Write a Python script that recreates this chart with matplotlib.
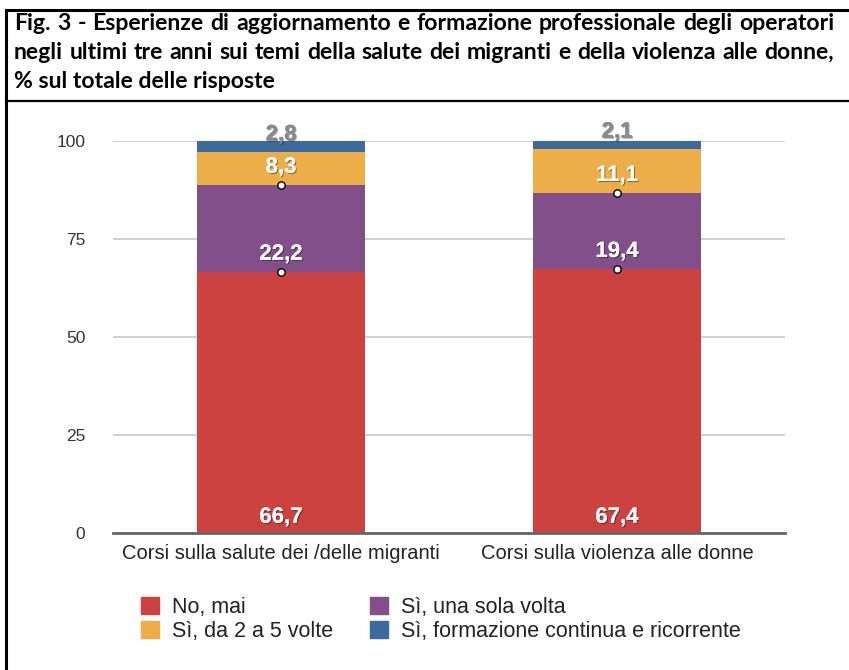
import numpy as np
import matplotlib
matplotlib.use("Agg")
import matplotlib.pyplot as plt
import matplotlib.patheffects as pe
from matplotlib.patches import Patch
from matplotlib.lines import Line2D

categories = ["Corsi sulla salute dei /delle migranti", "Corsi sulla violenza alle donne"]
series_names = ["No, mai", "Sì, una sola volta", "Sì, da 2 a 5 volte",
                "Sì, formazione continua e ricorrente"]
values = {
    "No, mai": [66.7, 67.4],
    "Sì, una sola volta": [22.2, 19.4],
    "Sì, da 2 a 5 volte": [8.3, 11.1],
    "Sì, formazione continua e ricorrente": [2.8, 2.1],
}
labels = {
    "No, mai": ["66,7", "67,4"],
    "Sì, una sola volta": ["22,2", "19,4"],
    "Sì, da 2 a 5 volte": ["8,3", "11,1"],
    "Sì, formazione continua e ricorrente": ["2,8", "2,1"],
}
colors = {
    "No, mai": "#CC4240",
    "Sì, una sola volta": "#834F8A",
    "Sì, da 2 a 5 volte": "#EDAE4A",
    "Sì, formazione continua e ricorrente": "#3A6A9E",
}
yticks = [0, 25, 50, 75, 100]
title_lines = [
    "Fig. 3 - Esperienze di aggiornamento e formazione professionale degli operatori",
    "negli ultimi tre anni sui temi della salute dei migranti e della violenza alle donne,",
    "% sul totale delle risposte",
]

W, H = 849, 670
fig = plt.figure(figsize=(W / 100, H / 100), dpi=100)

# cornice esterna e riga sotto il titolo
fig.add_artist(Line2D([6 / W, 6 / W], [0, 1 - 10 / H], color="black", lw=2.2))
fig.add_artist(Line2D([6 / W, 1], [1 - 10 / H, 1 - 10 / H], color="black", lw=2.2))
fig.add_artist(Line2D([6 / W, 1], [1 - 101 / H, 1 - 101 / H], color="black", lw=1.6))

# titolo giustificato: dimensione scelta perché la riga 2 stia nella larghezza
fig.canvas.draw()
renderer = fig.canvas.get_renderer()
x_left, x_right = 14, 834
tfont = dict(fontweight="bold", family="Lato")
probe = fig.text(0, 0, title_lines[1], fontsize=10, **tfont)
tsize = 10 * (x_right - x_left - 6) / probe.get_window_extent(renderer).width
probe.remove()
for i, line in enumerate(title_lines):
    y = 1 - (24 + i * 28.5) / H
    words = line.split(" ")
    if i < len(title_lines) - 1:
        widths = []
        for w in words:
            t = fig.text(0, 0, w, fontsize=tsize, **tfont)
            widths.append(t.get_window_extent(renderer).width)
            t.remove()
        gap = (x_right - x_left - sum(widths)) / (len(words) - 1)
        x = x_left
        for w, wd in zip(words, widths):
            fig.text(x / W, y, w, fontsize=tsize, va="center", ha="left", **tfont)
            x += wd + gap
    else:
        fig.text(x_left / W, y, line, fontsize=tsize, va="center", ha="left", **tfont)

ax = fig.add_axes([113 / W, 137 / H, 672 / W, (533 - 141) / H])
x = np.arange(len(categories))
bottom = np.zeros(len(categories))
label_shadow = [pe.withSimplePatchShadow(offset=(0.8, -0.8), shadow_rgbFace="black", alpha=0.4),
                pe.Normal()]
for k, name in enumerate(series_names):
    vals = np.array(values[name])
    ax.bar(x, vals, width=0.5, bottom=bottom, color=colors[name], zorder=2)
    for j in range(len(categories)):
        ypos = bottom[j] + (4 if k == 0 else 4.4)
        col = "#8a8a8a" if k == 3 else "white"
        ax.text(x[j], ypos, labels[name][j], ha="center", va="center", color=col,
                fontsize=16, fontweight="bold", family="Liberation Sans",
                path_effects=label_shadow, clip_on=False, zorder=4)
    if 0 < k < 3:
        ax.scatter(x, bottom, s=28, color="white", edgecolor="black", lw=1, zorder=5,
                   clip_on=False)
    bottom = bottom + vals

ax.set_xlim(-0.5, 1.5)
ax.set_ylim(0, 100)
ax.set_yticks(yticks)
ax.set_yticklabels([str(v) for v in yticks], fontsize=12.5, color="#333333",
                   family="Liberation Sans")
ax.set_xticks(x)
ax.set_xticklabels(categories, fontsize=14.5, color="#222222", family="Liberation Sans")
ax.tick_params(axis="both", length=0)
ax.tick_params(axis="y", pad=20)
ax.tick_params(axis="x", pad=8)
ax.grid(axis="y", color="#c8c8c8", lw=1.2, zorder=0)
for s in ["top", "right", "left"]:
    ax.spines[s].set_visible(False)
ax.spines["bottom"].set_color("#666666")
ax.spines["bottom"].set_linewidth(2)
ax.spines["bottom"].set_zorder(3)

order = ["No, mai", "Sì, da 2 a 5 volte", "Sì, una sola volta",
         "Sì, formazione continua e ricorrente"]
handles = [Patch(color=colors[n]) for n in order]
fig.legend(handles, order, ncol=2, loc="upper left",
           bbox_to_anchor=(141 / W, 1 - 597 / H), frameon=False,
           borderpad=0, borderaxespad=0,
           prop={"family": "Liberation Sans", "size": 15.5},
           handlelength=0.85, handleheight=0.85, handletextpad=0.6,
           columnspacing=1.7, labelspacing=0.15, labelcolor="#222222")

fig.savefig("out.png", dpi=100, facecolor="white")
